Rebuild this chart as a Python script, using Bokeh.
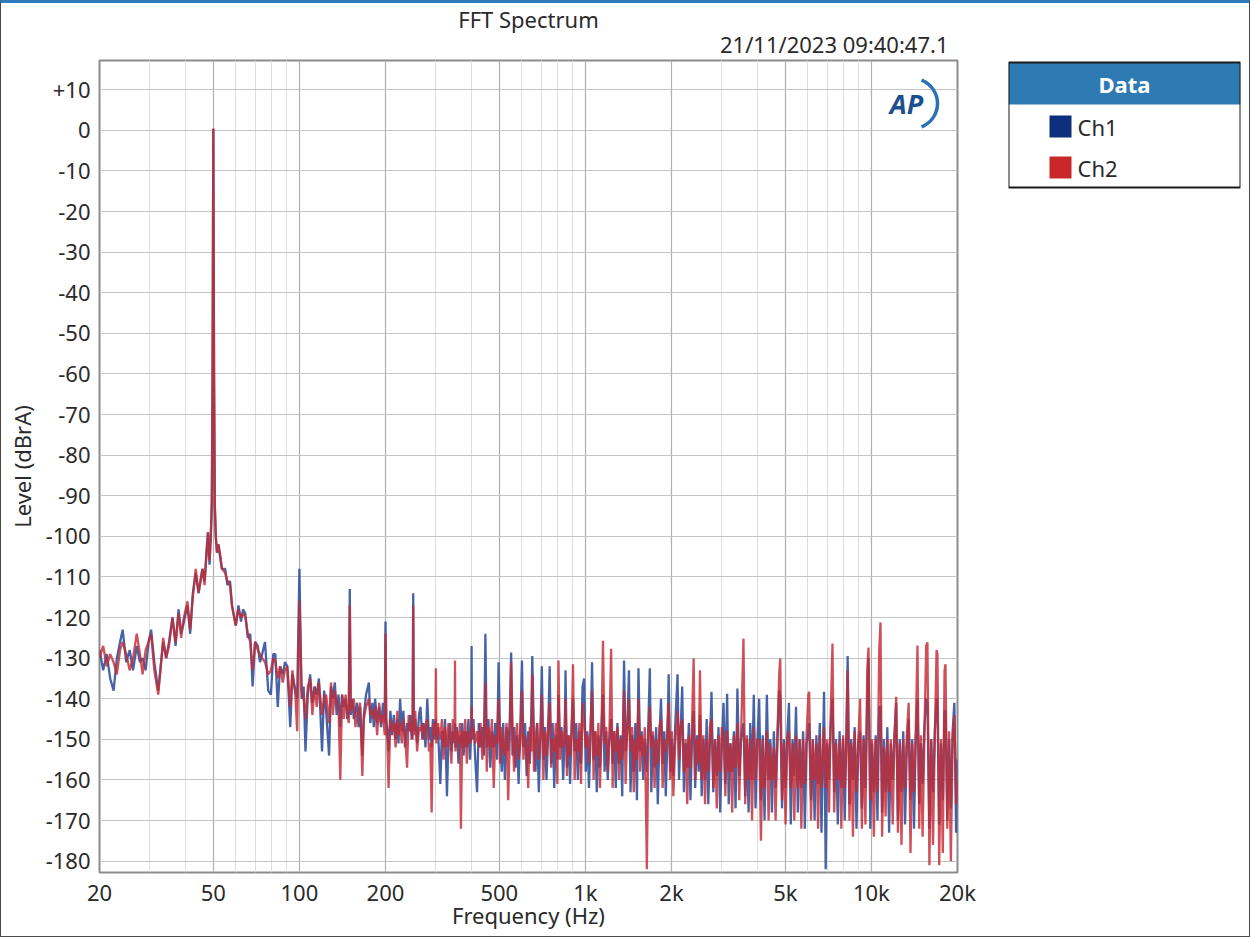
from bokeh.plotting import figure
from bokeh.models import FixedTicker, Range1d, Label, Title
from bokeh.layouts import row
from bokeh.embed import file_html
from bokeh.resources import INLINE
from bokeh.core.properties import value

FONT = "Noto Sans"
TXT = "#2a2a2a"

TITLE = "FFT Spectrum"
STAMP = "21/11/2023 09:40:47.1"
X_LABEL = "Frequency (Hz)"
Y_LABEL = "Level (dBrA)"
SERIES = ["Ch1", "Ch2"]

X_TICKS = [20, 50, 100, 200, 500, 1000, 2000, 5000, 10000, 20000]
X_TICK_LABELS = ["20", "50", "100", "200", "500", "1k", "2k", "5k", "10k", "20k"]
X_MINOR = [30, 40, 60, 70, 80, 90, 300, 400, 600, 700, 800, 900,
           3000, 4000, 6000, 7000, 8000, 9000]
Y_TICKS = [-180, -170, -160, -150, -140, -130, -120, -110, -100, -90, -80,
           -70, -60, -50, -40, -30, -20, -10, 0, 10]
Y_TICK_LABELS = ["-180", "-170", "-160", "-150", "-140", "-130", "-120", "-110",
                 "-100", "-90", "-80", "-70", "-60", "-50", "-40", "-30", "-20",
                 "-10", "0", "+10"]

# ---- 20 Hz .. 200 Hz
FREQ_LOW = [
    20, 20.6, 21.2, 21.8, 22.4, 23, 23.6, 24.1, 24.8, 25.5,
    26.2, 27, 27.7, 28.3, 29, 29.7, 30.3, 31.1, 32.1, 33.4,
    34.2, 35, 36, 36.9, 37.8, 38.6, 39.2, 40.6, 41.5, 42.4,
    43.4, 44.4, 45.8, 46.6, 47.5, 47.9, 48.5, 49, 49.4, 49.7,
    50, 50.3, 50.6, 51, 51.5, 52.1, 53, 53.6, 55, 56,
    57.2, 58.1, 59.9, 61.2, 62.5, 63.5, 64.7, 66, 67.3, 68.6,
    70, 71.5, 72.8, 74.1, 75.8, 77.8, 79.5, 81, 82.4, 84,
    85.6, 87.5, 89, 90.7, 92.9, 94.5, 96.8, 98.2, 100, 101.8,
    103.5, 105, 107, 109, 111, 113, 115, 117, 120, 122,
    124, 127, 129, 131, 133, 135, 137, 139, 141, 143,
    145, 147, 148.8, 150, 151.2, 153, 155, 157, 159, 161,
    163, 166, 168, 171, 175, 177, 180, 182, 184, 187,
    190, 193, 196, 198.8,
]
CH1_LOW = [
    -128, -133, -129, -135, -138, -130, -126, -123, -131, -128,
    -133, -127, -131, -130, -133, -126, -123, -131, -138, -126,
    -130, -126, -120, -127, -118, -124, -122, -117, -124, -114,
    -109, -114, -108, -111, -102, -99, -107, -100, -92, -60,
    0.4, -60, -92, -100, -104, -102, -106, -108, -108, -112,
    -111, -117, -122, -117, -121, -118, -119, -125, -124, -137,
    -126, -127, -131, -129, -126, -138, -139, -129, -129, -142,
    -132, -134, -131, -132, -147, -134, -138, -140, -108, -140,
    -137, -153, -139, -134, -141, -137, -139, -135, -153, -138,
    -143, -154, -137, -140, -136, -144, -139, -147, -139, -142,
    -140, -145, -143, -113, -144, -140, -145, -143, -141, -147,
    -142, -154, -144, -139, -136, -146, -141, -147, -140, -146,
    -142, -147, -141, -146,
]
CH2_LOW = [
    -130, -127, -132, -129, -131, -134, -128, -126, -129, -133,
    -130, -124, -129, -134, -128, -126, -124, -133, -139, -125,
    -130, -127, -120, -126, -119, -125, -121, -116, -123, -115,
    -108, -114, -108, -112, -103, -99, -106, -100, -92, -60,
    0.4, -60, -92, -100, -104, -102, -105, -108, -109, -111,
    -112, -117, -122, -118, -120, -119, -120, -124, -126, -133,
    -126, -128, -129, -130, -131, -134, -133, -130, -131, -135,
    -132, -136, -133, -132, -142, -133, -139, -148, -116, -138,
    -140, -145, -137, -135, -144, -137, -142, -136, -144, -140,
    -139, -146, -136, -144, -138, -141, -142, -160, -139, -145,
    -139, -143, -146, -117, -143, -142, -140, -147, -144, -143,
    -141, -159, -145, -142, -140, -144, -143, -145, -142, -149,
    -141, -146, -144, -149,
]

# ---- 200 Hz .. 2 kHz
FREQ_MID = [
    200, 201.2, 203, 205, 208, 211, 214, 217, 220, 222,
    225, 228, 231, 234, 238, 241, 244, 247, 248.8, 250,
    251.2, 254, 258, 262, 265, 269, 272, 276, 280, 284,
    287, 290, 293, 296, 298.8, 300, 301.2, 305, 311, 315,
    319, 323, 328, 332, 336, 340, 344, 348.8, 350, 351.2,
    355, 360, 364, 367, 371, 375, 380, 385, 390, 395,
    398.8, 400, 401.2, 406, 412, 418, 424, 430, 436, 442,
    447, 452, 458, 465, 471, 478, 484, 491, 497, 503,
    510, 516, 523, 530, 537, 544, 550, 556, 563, 570,
    577, 584, 592, 600, 607, 615, 623, 631, 639, 647,
    652, 661, 669, 678, 687, 696, 704, 713, 722, 731,
    740, 750, 759, 768, 778, 788, 798, 805, 815, 825,
    836, 847, 852, 862, 873, 884, 895, 905, 917, 929,
    941, 953, 965, 977, 990, 1003, 1016, 1029, 1042, 1055,
    1068, 1082, 1096, 1110, 1124, 1138, 1152, 1167, 1182, 1197,
    1212, 1230, 1245, 1261, 1277, 1294, 1311, 1328, 1345, 1365,
    1382, 1400, 1420, 1438, 1457, 1476, 1495, 1514, 1533, 1553,
    1573, 1593, 1614, 1640, 1660, 1680, 1700, 1722, 1745, 1768,
    1791, 1814, 1838, 1862, 1886, 1910, 1935, 1955, 1980,
]
CH1_MID = [
    -121, -145, -148, -153, -143, -149, -144, -150, -145, -151,
    -140, -148, -143, -152, -146, -148, -144, -150, -147, -114,
    -148, -145, -151, -144, -142, -150, -146, -152, -140, -150,
    -147, -152, -145, -150, -146, -145, -150, -147, -161, -148,
    -152, -145, -164, -150, -146, -153, -148, -151, -146, -152,
    -147, -156, -149, -152, -146, -154, -148, -152, -145, -155,
    -148, -127, -150, -145, -155, -163, -146, -152, -147, -154,
    -124, -152, -145, -157, -148, -152, -146, -155, -131, -149,
    -158, -146, -160, -147, -153, -145, -128.6, -154, -147, -157,
    -149, -161, -147, -130.6, -152, -146, -159, -148, -156, -144,
    -129.5, -150, -158, -146, -163, -149, -132, -155, -147, -160,
    -150, -132, -156, -146, -162, -149, -155, -139, -152, -147,
    -160, -148, -133, -157, -149, -161, -147, -140, -153, -146,
    -160, -148, -156, -137, -135, -158, -148, -162, -150, -131,
    -155, -148, -163, -149, -157, -147, -139, -158, -148, -160,
    -150, -145, -156, -148, -162, -146, -156, -149, -164, -130.6,
    -153, -148, -133, -163, -149, -158, -146, -165, -132.5, -153,
    -148, -160, -150, -158, -146, -132.5, -163, -149, -157, -147,
    -166, -150, -140, -156, -148, -164, -150, -134, -158,
]
CH2_MID = [
    -124, -147, -150, -162, -145, -148, -146, -152, -143, -149,
    -146, -151, -145, -149, -157, -144, -148, -146, -150, -117,
    -149, -143, -153, -147, -148, -146, -150, -147, -145, -153,
    -151, -168, -147, -146, -149, -132.5, -151, -146, -150, -145,
    -155, -147, -152, -146, -150, -156, -145, -150, -130.6, -153,
    -148, -151, -146, -172, -148, -152, -145, -156, -148, -151,
    -150, -142, -148, -147, -151, -148, -152, -146, -155, -149,
    -136, -158, -147, -152, -145, -162, -149, -151, -140, -156,
    -147, -152, -154, -146, -165, -150, -131, -147, -158, -150,
    -146, -155, -151, -138, -155, -149, -152, -162, -147, -153,
    -134, -158, -150, -146, -155, -149, -139, -160, -148, -154,
    -147, -141, -157, -150, -153, -146, -161, -130.6, -155, -148,
    -152, -147, -140, -159, -149, -154, -148, -131.5, -160, -150,
    -153, -146, -161, -141, -146, -152, -149, -156, -147, -138,
    -160, -148, -154, -146, -162, -149, -125.7, -151, -147, -158,
    -150, -127.7, -162, -148, -153, -147, -160, -150, -155, -138,
    -161, -148, -140, -153, -147, -163, -150, -155, -140, -158,
    -149, -154, -147, -182, -150, -142, -152, -148, -162, -150,
    -156, -147, -145, -162, -150, -153, -147, -141, -160,
]

# ---- 2 kHz .. 20 kHz
FREQ_HIGH = [
    2005, 2030, 2060, 2100, 2125, 2150, 2180, 2210, 2240, 2270,
    2300, 2330, 2360, 2390, 2420, 2455, 2490, 2515, 2550, 2585,
    2620, 2655, 2690, 2725, 2760, 2800, 2840, 2880, 2920, 2960,
    3000, 3040, 3085, 3130, 3170, 3215, 3260, 3305, 3350, 3400,
    3450, 3500, 3570, 3620, 3670, 3720, 3770, 3825, 3880, 3935,
    3990, 4050, 4110, 4170, 4230, 4310, 4370, 4430, 4490, 4560,
    4625, 4690, 4760, 4800, 4870, 4940, 5010, 5080, 5150, 5225,
    5300, 5375, 5450, 5530, 5610, 5690, 5770, 5850, 5935, 6020,
    6060, 6150, 6240, 6330, 6420, 6510, 6600, 6690, 6830, 6920,
    7010, 7110, 7200, 7310, 7410, 7520, 7630, 7740, 7850, 7960,
    8070, 8180, 8260, 8380, 8500, 8620, 8740, 8870, 9000, 9130,
    9260, 9390, 9530, 9670, 9770, 9910, 10050, 10200, 10350, 10500,
    10650, 10760, 10900, 11050, 11210, 11370, 11530, 11700, 11870, 12040,
    12210, 12380, 12560, 12740, 12920, 13110, 13300, 13500, 13700, 13890,
    14090, 14290, 14490, 14700, 14900, 15100, 15320, 15540, 15700, 15950,
    16180, 16420, 16660, 16900, 17020, 17260, 17510, 17770, 18020, 18160,
    18420, 18690, 18960, 19230, 19500, 19780, 20000,
]
CH1_HIGH = [
    -150, -159, -147, -134, -160, -149, -137, -163, -151, -157,
    -146, -165, -150, -143, -162, -149, -158, -144, -164, -150,
    -160, -145, -166, -151, -138.3, -163, -150, -159, -147, -168,
    -152, -141, -161, -138.8, -166, -151, -158, -148, -167, -137.5,
    -159, -150, -146, -164, -150, -168, -146, -160, -139, -167,
    -151, -140, -165, -149, -170, -139, -160, -150, -168, -148,
    -162, -151, -138, -140, -167, -150, -162, -149, -141, -171,
    -150, -159, -142, -168, -150, -162, -148, -172, -151, -148,
    -146, -165, -150, -170, -149, -161, -146, -173, -138.3, -182,
    -151, -160, -147, -140, -163, -150, -171, -148, -162, -150,
    -170, -147, -129.5, -166, -150, -160, -147, -172, -151, -148,
    -167, -149, -162, -141, -130, -172, -151, -163, -149, -170,
    -142, -142, -168, -150, -163, -147, -173, -151, -160, -149,
    -141, -170, -150, -163, -148, -171, -152, -145, -165, -150,
    -172, -150, -140, -166, -151, -161, -147, -140, -141, -172,
    -150, -163, -148, -140, -142, -171, -151, -165, -143, -143,
    -170, -150, -167, -148, -141, -173, -155,
]
CH2_HIGH = [
    -148, -164, -151, -143, -155, -147, -145, -158, -150, -166,
    -149, -157, -146, -130.1, -160, -150, -156, -133, -160, -149,
    -166, -150, -158, -147, -145, -162, -150, -167, -149, -158,
    -147, -149, -164, -148, -158, -151, -168, -149, -157, -146,
    -165, -150, -125.2, -166, -149, -160, -150, -170, -147, -160,
    -150, -150, -175, -150, -162, -148, -170, -151, -160, -152,
    -170, -149, -134, -130.1, -165, -151, -171, -150, -148, -162,
    -151, -170, -149, -162, -150, -172, -150, -161, -149, -139,
    -138.3, -170, -150, -160, -151, -172, -149, -162, -147, -162,
    -150, -168, -145, -126.4, -168, -151, -160, -150, -172, -149,
    -162, -150, -133, -170, -151, -174, -148, -163, -150, -140,
    -172, -150, -171, -133, -127.4, -165, -150, -174, -150, -163,
    -128, -121.2, -174, -152, -169, -150, -163, -150, -171, -150,
    -139.5, -173, -151, -176, -150, -162, -149, -141, -178, -151,
    -163, -148, -126.9, -172, -149, -174, -150, -127, -126.1, -181,
    -150, -176, -150, -128, -129.1, -181, -150, -178, -133, -131.5,
    -172, -148, -180, -150, -144, -166, -160,
]

FREQ = FREQ_LOW + FREQ_MID + FREQ_HIGH
CH1 = CH1_LOW + CH1_MID + CH1_HIGH
CH2 = CH2_LOW + CH2_MID + CH2_HIGH
assert len(FREQ_LOW) == len(CH1_LOW) == len(CH2_LOW), (len(FREQ_LOW), len(CH1_LOW), len(CH2_LOW))
assert len(FREQ_MID) == len(CH1_MID) == len(CH2_MID), (len(FREQ_MID), len(CH1_MID), len(CH2_MID))
assert len(FREQ_HIGH) == len(CH1_HIGH) == len(CH2_HIGH), (len(FREQ_HIGH), len(CH1_HIGH), len(CH2_HIGH))

X_MIN, X_MAX = 20, 20000
Y_MIN, Y_MAX = -182.8, 17.2

BLUE_LINE = "#37569f"
RED_LINE = "#c42a33"
BLUE_SW = "#0d2e7a"
RED_SW = "#c9282b"
HEADER = "#2e7bb4"

H = 933
TOP, BOTTOM = 57, 64

p = figure(width=1000, height=H, x_axis_type="log",
           x_range=Range1d(X_MIN, X_MAX), y_range=Range1d(Y_MIN, Y_MAX),
           output_backend="svg", toolbar_location=None,
           min_border_left=98, min_border_right=44, min_border_top=TOP,
           min_border_bottom=BOTTOM, background_fill_color="white",
           border_fill_color="white")

p.title.text = TITLE
p.title.align = "center"
p.title.standoff = -19
p.title.text_font = FONT
p.title.text_font_size = "22px"
p.title.text_font_style = "normal"
p.title.text_color = TXT
p.add_layout(Title(text=STAMP, align="right", offset=9, standoff=4, text_font=FONT,
                   text_font_size="22px", text_font_style="normal",
                   text_color=TXT), "above")

p.outline_line_color = "#8c8c8c"
p.outline_line_width = 2

p.xaxis.ticker = FixedTicker(ticks=X_TICKS, minor_ticks=X_MINOR)
p.xaxis.major_label_overrides = {t: s for t, s in zip(X_TICKS, X_TICK_LABELS)}
p.yaxis.ticker = FixedTicker(ticks=Y_TICKS)
p.yaxis.major_label_overrides = {t: s for t, s in zip(Y_TICKS, Y_TICK_LABELS)}

for ax in (p.xaxis, p.yaxis):
    ax.axis_line_color = None
    ax.major_tick_line_color = None
    ax.minor_tick_line_color = None
    ax.major_label_text_font = FONT
    ax.major_label_text_font_size = "22px"
    ax.major_label_text_color = TXT
    ax.axis_label_text_font = FONT
    ax.axis_label_text_font_size = "22px"
    ax.axis_label_text_font_style = "normal"
    ax.axis_label_text_color = TXT
p.xaxis.axis_label = X_LABEL
p.yaxis.axis_label = Y_LABEL
p.xaxis.major_label_standoff = -2
p.xaxis.axis_label_standoff = -10
p.yaxis.major_label_standoff = 3
p.yaxis.axis_label_standoff = 6

p.xgrid.ticker = p.xaxis.ticker
p.xgrid.grid_line_color = "#b0b0b0"
p.xgrid.grid_line_width = 1.2
p.xgrid.minor_grid_line_color = "#dedede"
p.xgrid.minor_grid_line_width = 1
p.ygrid.ticker = p.yaxis.ticker
p.ygrid.grid_line_color = "#c4c4c4"
p.ygrid.grid_line_width = 1.2

p.line(FREQ, CH1, line_color=BLUE_LINE, line_width=2.3, line_alpha=0.92)
p.line(FREQ, CH2, line_color=RED_LINE, line_width=2.3, line_alpha=0.82)


def fx(px):
    # page pixel -> frequency (decoration placement only)
    return 20 * 10 ** ((px - 99) / 286.0)


def fy(py):
    return 17.2 - (py - 60) / 4.06


# AP logo
p.add_layout(Label(x=fx(906), y=fy(103), text="AP", text_align="center",
                   text_baseline="middle", text_font=FONT,
                   text_font_size="27px", text_font_style="bold italic",
                   text_color="#1c4f8f"))
p.arc(x=[fx(912)], y=[fy(103)], radius=25, radius_units="screen",
      start_angle=-1.2, end_angle=1.2, line_color="#2a72b5", line_width=3.5)

# ---- legend panel (frame rows aligned with the main plot; y in pixels from frame top)
q = figure(width=248, height=H, x_range=Range1d(0, 232), y_range=Range1d(812, 0),
           output_backend="svg", toolbar_location=None,
           x_axis_location=None, y_axis_location=None,
           min_border_left=7, min_border_right=9, min_border_top=TOP,
           min_border_bottom=BOTTOM, background_fill_color="white",
           border_fill_color="white")
q.grid.visible = False
q.outline_line_color = None
q.quad(left=[0], right=[232], top=[2], bottom=[44], fill_color=HEADER, line_color=None)
q.quad(left=[0], right=[232], top=[2], bottom=[127], fill_color=None,
       line_color="#1a1a1a", line_width=2)
q.text(x=[116], y=[23], text=["Data"], text_align="center", text_baseline="middle",
       text_font=value(FONT), text_font_size="22px", text_font_style="bold",
       text_color="white")
q.quad(left=[41, 41], right=[63, 63], top=[55, 96], bottom=[77, 118],
       fill_color=[BLUE_SW, RED_SW], line_color=None)
q.text(x=[69, 69], y=[66, 107], text=SERIES, text_align="left", text_baseline="middle",
       text_font=value(FONT), text_font_size="22px", text_color=TXT)

layout = row(p, q, styles={"border": "1px solid #4a4a4a",
                           "border-top": "3px solid #2f7ab9"})

open("out.html", "w").write(file_html(layout, INLINE))
